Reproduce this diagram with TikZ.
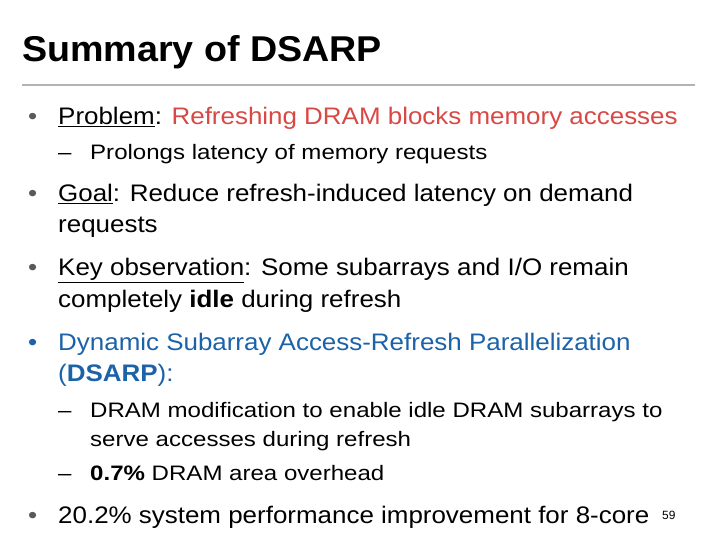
\documentclass[tikz,border=0pt]{standalone}
\usepackage{fontspec}
\setmainfont{Liberation Sans}
\newfontfamily\bodyf[FakeStretch=1.085]{Liberation Sans}
\newfontfamily\subf[FakeStretch=1.15]{Liberation Sans}
\newfontfamily\titf[FakeStretch=1.05]{Liberation Sans}
\definecolor{myred}{RGB}{216,72,68}
\definecolor{myblue}{RGB}{28,98,168}
\definecolor{bulgray}{RGB}{90,90,90}
\begin{document}
\begin{tikzpicture}[x=1bp,y=-1bp,
  txt/.style={anchor=base west,inner sep=0pt,font=\bodyf\fontsize{24}{28}\selectfont},
  sub/.style={anchor=base west,inner sep=0pt,font=\subf\fontsize{21}{25}\selectfont},
  bul/.style={anchor=base west,inner sep=0pt,font=\bodyf\fontsize{24}{28}\selectfont,text=bulgray}]
\useasboundingbox (0,0) rectangle (720,540);
\node[anchor=base west,inner sep=0pt,font=\titf\fontsize{36}{40}\selectfont\bfseries] (title) at (22,62) {Summary of DSARP};
\draw[line width=2bp,color=black!30] (22,85) -- (695,85);
\node[bul] (b1) at (28,125) {•};
\node[txt] (t1) at (58,125) {\underline{Problem}: \textcolor{myred}{Refreshing DRAM blocks memory accesses}};
\node[sub] (d1) at (58,160) {–};
\node[sub] (s1) at (90,160) {Prolongs latency of memory requests};
\node[bul] (b2) at (28,202) {•};
\node[txt] (t2) at (58,202) {\underline{Goal}: Reduce refresh-induced latency on demand};
\node[txt] (t2b) at (58,233) {requests};
\node[bul] (b3) at (28,276) {•};
\node[txt] (t3) at (58,276) {\underline{Key observation}: Some subarrays and I/O remain};
\node[txt] (t3b) at (58,307) {completely \textbf{idle} during refresh};
\node[bul,text=myblue] (b4) at (28,350) {•};
\node[txt,text=myblue] (t4) at (58,350) {Dynamic Subarray Access-Refresh Parallelization};
\node[txt,text=myblue] (t4b) at (58,381) {(\textbf{DSARP}):};
\node[sub] (d2) at (58,417) {–};
\node[sub] (s2) at (90,417) {DRAM modification to enable idle DRAM subarrays to};
\node[sub] (s2b) at (90,446) {serve accesses during refresh};
\node[sub] (d3) at (58,480) {–};
\node[sub] (s3) at (90,480) {\textbf{0.7\%} DRAM area overhead};
\node[bul] (b5) at (28,523) {•};
\node[txt] (t5) at (58,523) {20.2\% system performance improvement for 8-core};
\node[anchor=base west,inner sep=0pt,font=\fontsize{12}{14}\selectfont] (pg) at (662,519) {59};
\end{tikzpicture}
\end{document}
